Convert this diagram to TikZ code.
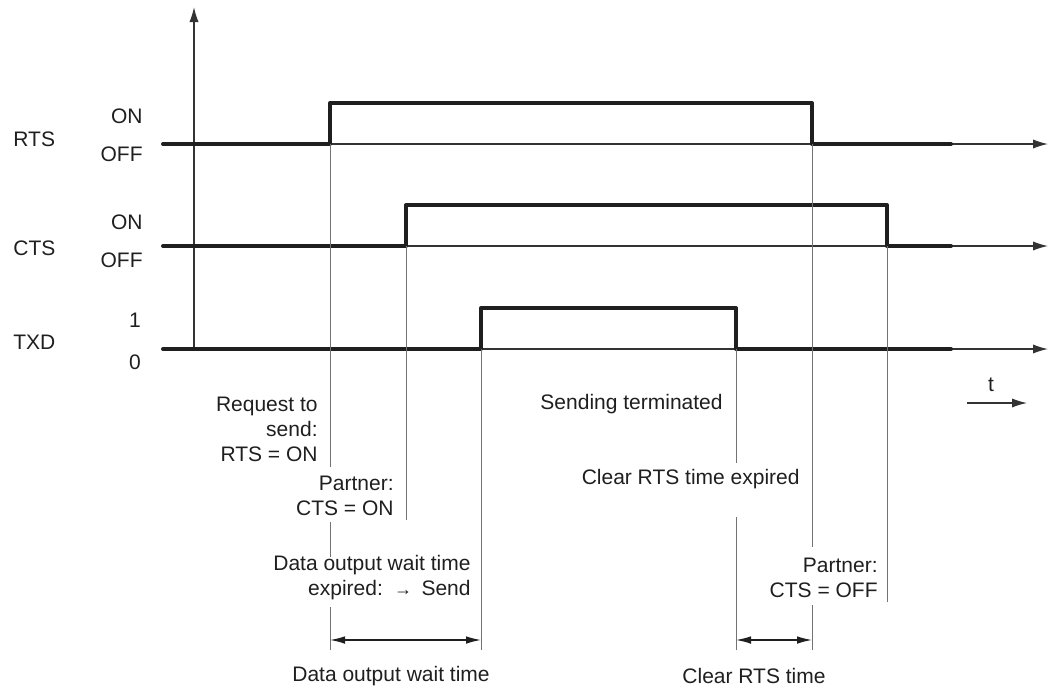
\documentclass[tikz,border=0pt]{standalone}
\usepackage{fontspec}
\setmainfont{Liberation Sans}
\usetikzlibrary{arrows.meta}
\tikzset{
  signal/.style={line width=2pt, line cap=round, line join=round, draw=black!88},
  timeaxis/.style={line width=0.65pt, draw=black!80, -{Latex[length=7.5pt,width=4.6pt]}},
  guide/.style={line width=0.5pt, draw=black!55},
  dimline/.style={line width=0.65pt, draw=black!88,
                  {Latex[length=7.5pt,width=3.8pt]}-{Latex[length=7.5pt,width=3.8pt]}},
  lbl/.style={font=\fontsize{10.5}{12.6}\selectfont, text=black!88, inner sep=0pt},
  note/.style={lbl, align=right, anchor=east},
}

\begin{document}
\begin{tikzpicture}[x=0.5pt, y=-0.5pt]
  \useasboundingbox (0,0) rectangle (1050,692);

  %% vertical axis
  \coordinate (ybot) at (194,349);
  \coordinate (ytop) at (194,7);
  \draw[timeaxis] (ybot) -- (ytop);

  %% signals: name/low level/rise/fall
  \foreach \name/\y/\up/\dn in {rts/144/330/812, cts/246/406/887, txd/349/481/736}
  {
    \coordinate (\name-start) at (194,\y);
    \coordinate (\name-end) at (1048,\y);
    \draw[timeaxis] (\name-start) -- (\name-end);
    \draw[signal] (163,\y) -- (\up,\y) -- (\up,{\y-41}) -- (\dn,{\y-41}) -- (\dn,\y) -- (951,\y);
  }

  %% signal names and levels
  \foreach \txt/\y in {RTS/139, CTS/248, TXD/342}
    \node[lbl, anchor=west] (name-\txt) at (13,\y) {\txt};
  \foreach \txt/\y/\i in {ON/116/1, OFF/154/2, ON/222/3, OFF/260/4}
    \node[lbl, anchor=east] (lvl-\i) at (143,\y) {\txt};
  \node[lbl] (lvl-5) at (135,320) {1};
  \node[lbl] (lvl-6) at (135,362) {0};

  %% guide lines (broken where text crosses)
  \draw[guide] (330,144) -- (330,467);
  \draw[guide] (330,522) -- (330,557);
  \draw[guide] (330,607) -- (330,650);
  \draw[guide] (406,246) -- (406,520);
  \draw[guide] (481,349) -- (481,650);
  \draw[guide] (736,349) -- (736,463);
  \draw[guide] (736,517) -- (736,650);
  \draw[guide] (812,144) -- (812,547);
  \draw[guide] (812,605) -- (812,650);
  \draw[guide] (887,246) -- (887,602);

  %% event texts
  \node[note] (req) at (318,429.5) {Request to\\send:\\RTS = ON};
  \node[note] (ctson) at (394,495.5) {Partner:\\CTS = ON};
  \node[note] (dowexp) at (471,577.5) {Data output wait time\\expired: \,{\small →}\, Send};
  \node[note] (sendend) at (723,404) {Sending terminated};
  \node[note] (crtsexp) at (800,479) {Clear RTS time expired};
  \node[note] (ctsoff) at (878,577.5) {Partner:\\CTS = OFF};

  %% time direction
  \node[lbl] (t) at (991,385) {t};
  \coordinate (tfrom) at (967,403);
  \coordinate (tto) at (1027,403);
  \draw[timeaxis, line width=0.65pt] (tfrom) -- (tto);

  %% durations
  \coordinate (dowA) at (330,640);
  \coordinate (dowB) at (481,640);
  \coordinate (crtsA) at (736,640);
  \coordinate (crtsB) at (812,640);
  \draw[dimline] (dowA) -- (dowB);
  \draw[dimline] (crtsA) -- (crtsB);
  \node[lbl] (dowlbl) at (391,676) {Data output wait time};
  \node[lbl] (crtslbl) at (754,676) {Clear RTS time};

\end{tikzpicture}
\end{document}
